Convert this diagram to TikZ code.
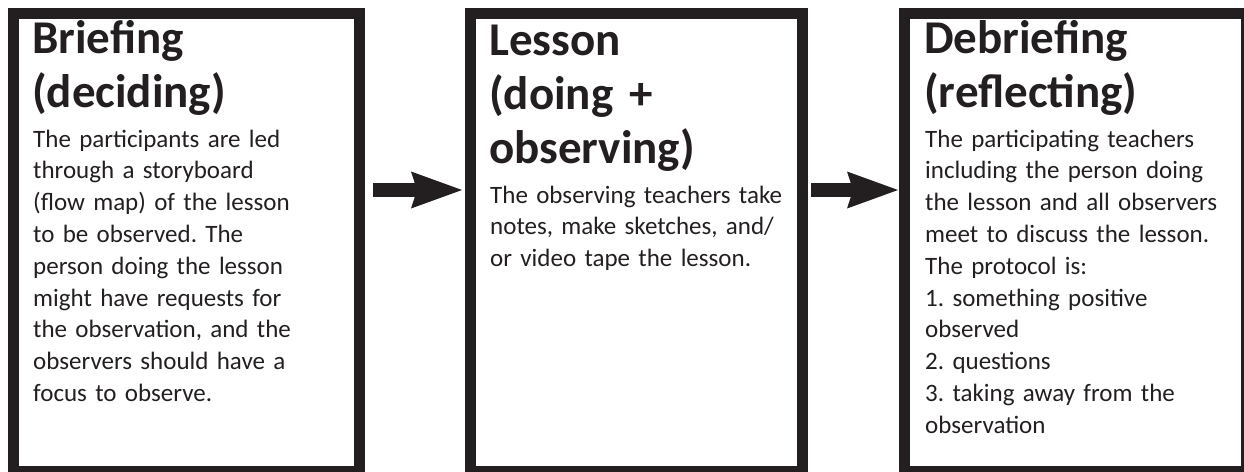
\documentclass[tikz,border=0pt]{standalone}
\usepackage{fontspec}
\setmainfont{Carlito}
\usetikzlibrary{arrows.meta,calc}
\definecolor{ink}{HTML}{231F20}
\frenchspacing
\begin{document}
\begin{tikzpicture}[x=1pt,y=-1pt,
  stagebox/.style={draw=ink,line width=11pt,inner sep=0pt,outer sep=0pt,
    minimum height=458.5pt},
  stagetitle/.style={anchor=base west,inner sep=0pt,text=ink,align=left,
    text width=320pt,font=\bfseries\fontsize{47}{54}\selectfont},
  stagetext/.style={anchor=base west,inner sep=0pt,text=ink,align=left,
    text width=320pt,font=\fontsize{25}{31.8}\selectfont},
  flow/.style={draw=ink,line width=14pt,
    -{Stealth[length=51pt,width=37pt,inset=6pt,line width=0pt]}}]
\useasboundingbox (0,0) rectangle (1244,471);

% the three stages
\node[stagebox,minimum width=346pt] (b1) at (186.5,242.25) {};
\node[stagebox,minimum width=332pt] (b2) at (636,242.25) {};
\node[stagebox,minimum width=342pt] (b3) at (1075.5,242.25) {};

% briefing
\node[stagetitle] (t1) at (32,53.5) {Briefing\\(deciding)};
\node[stagetext] (d1) at (33,147) {The participants are led\\
through a storyboard\\
(flow map) of the lesson\\
to be observed. The\\
person doing the lesson\\
might have requests for\\
the observation, and the\\
observers should have a\\
focus to observe.};

% lesson
\node[stagetitle] (t2) at (489,55) {Lesson\\(doing +\\observing)};
\node[stagetext] (d2) at (490,203) {The observing teachers take\\
notes, make sketches, and/\\
or video tape the lesson.};

% debriefing
\node[stagetitle] (t3) at (924,53.5) {Debriefing\\(reflecting)};
\node[stagetext] (d3) at (925,147) {The participating teachers\\
including the person doing\\
the lesson and all observers\\
meet to discuss the lesson.\\
The protocol is:\\
1. something positive\\
observed\\
2. questions\\
3. taking away from the\\
observation};

% arrows between the stages
\draw[flow] ($(b1.north east)+(13.5,177)$) -- ($(b2.north west)+(-8,177)$);
\draw[flow] ($(b2.north east)+(9,177)$) -- ($(b3.north west)+(-6.5,177)$);
\end{tikzpicture}
\end{document}
